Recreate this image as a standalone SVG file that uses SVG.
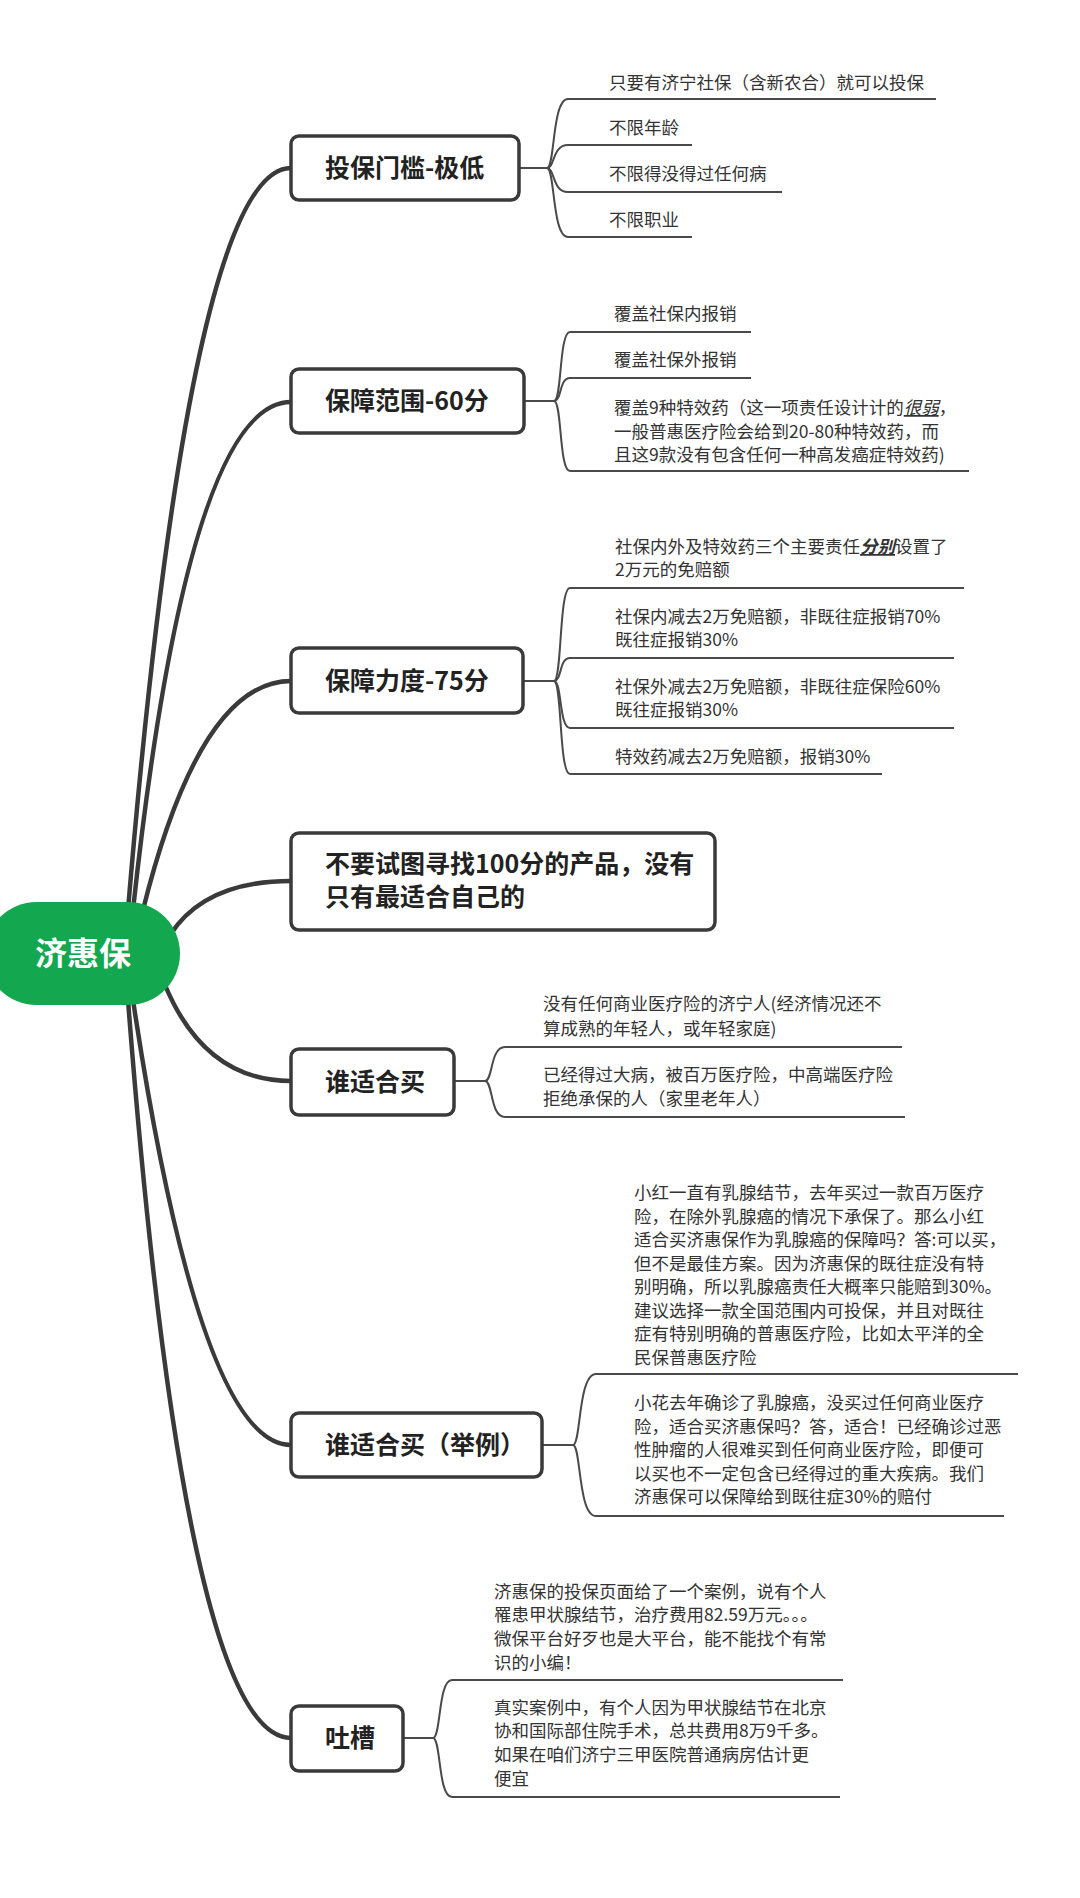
<svg xmlns="http://www.w3.org/2000/svg" width="1080" height="1898" viewBox="0 0 1080 1898">
<style>
.main{fill:none;stroke:#3a3a3a;stroke-width:4.5;stroke-linecap:round}
.sub{fill:none;stroke:#4a4a4a;stroke-width:2}
.box{fill:#fff;stroke:#3a3a3a;stroke-width:3.5}
.nt{font-family:"Noto Sans CJK SC","Noto Sans",sans-serif;font-size:25px;font-weight:700;fill:#222}
.st{font-family:"Noto Sans CJK SC","Noto Sans",sans-serif;font-size:17.5px;fill:#333}
.ct{font-family:"Noto Sans CJK SC","Noto Sans",sans-serif;font-size:32px;font-weight:700;fill:#fff}
</style>
<rect width="1080" height="1898" fill="#fff"/>
<g id="connectors">
<path class="main" d="M128,910 Q190,168 291,168"/>
<path class="main" d="M133,910 Q188,402 291,402"/>
<path class="main" d="M143,910 Q200,681 291,681"/>
<path class="main" d="M170,935 Q205,881 291,881"/>
<path class="main" d="M165,985 Q205,1081 291,1081"/>
<path class="main" d="M133,1000 Q200,1445 291,1445"/>
<path class="main" d="M128,1000 Q185,1738 291,1738"/>
<path class="sub" d="M519,168 H547"/>
<path class="sub" d="M547,168 C555,168 552,99 568,99 H936"/>
<path class="sub" d="M547,168 C555,168 552,145 568,145 H692"/>
<path class="sub" d="M547,168 C555,168 552,192 568,192 H782"/>
<path class="sub" d="M547,168 C555,168 552,237 568,237 H692"/>
<path class="sub" d="M524,401 H554"/>
<path class="sub" d="M554,401 C562,401 559,332 570,332 H751"/>
<path class="sub" d="M554,401 C562,401 559,378 570,378 H751"/>
<path class="sub" d="M554,401 C562,401 559,471 570,471 H969"/>
<path class="sub" d="M523,681 H554"/>
<path class="sub" d="M554,681 C562,681 559,588 570,588 H964"/>
<path class="sub" d="M554,681 C562,681 559,658 570,658 H954"/>
<path class="sub" d="M554,681 C562,681 559,728 570,728 H954"/>
<path class="sub" d="M554,681 C562,681 559,774 570,774 H882"/>
<path class="sub" d="M454,1081 H485"/>
<path class="sub" d="M485,1081 C493,1081 490,1047 505,1047 H902"/>
<path class="sub" d="M485,1081 C493,1081 490,1117 505,1117 H905"/>
<path class="sub" d="M542,1445 H573"/>
<path class="sub" d="M573,1445 C581,1445 578,1374 596,1374 H1018"/>
<path class="sub" d="M573,1445 C581,1445 578,1516 596,1516 H1004"/>
<path class="sub" d="M403,1738 H433"/>
<path class="sub" d="M433,1738 C441,1738 438,1680 452,1680 H843"/>
<path class="sub" d="M433,1738 C441,1738 438,1797 452,1797 H840"/>
</g>
<g id="center">
<rect x="-15" y="902" width="195" height="103" rx="51.5" fill="#13a74f"/>
<text class="ct" x="83" y="965" text-anchor="middle">济惠保</text>
</g>
<g id="n1">
<rect class="box" x="291" y="136" width="228" height="64" rx="8"/>
<text class="nt" x="325" y="177">投保门槛-极低</text>
</g>
<g id="n1a"><text class="st" x="609" y="89">只要有济宁社保（含新农合）就可以投保</text></g>
<g id="n1b"><text class="st" x="609" y="134">不限年龄</text></g>
<g id="n1c"><text class="st" x="609" y="180">不限得没得过任何病</text></g>
<g id="n1d"><text class="st" x="609" y="226">不限职业</text></g>
<g id="n2">
<rect class="box" x="291" y="369" width="233" height="64" rx="8"/>
<text class="nt" x="325" y="410">保障范围-60分</text>
</g>
<g id="n2a"><text class="st" x="614" y="320">覆盖社保内报销</text></g>
<g id="n2b"><text class="st" x="614" y="366">覆盖社保外报销</text></g>
<g id="n2c"><text class="st" x="614" y="414">覆盖9种特效药（这一项责任设计计的<tspan font-style="italic" text-decoration="underline">很弱</tspan>，</text>
<text class="st" x="614" y="438">一般普惠医疗险会给到20-80种特效药，而</text>
<text class="st" x="614" y="461">且这9款没有包含任何一种高发癌症特效药)</text></g>
<g id="n3">
<rect class="box" x="291" y="648" width="232" height="65" rx="8"/>
<text class="nt" x="325" y="690">保障力度-75分</text>
</g>
<g id="n3a"><text class="st" x="615" y="553">社保内外及特效药三个主要责任<tspan font-weight="700" font-style="italic" text-decoration="underline">分别</tspan>设置了</text>
<text class="st" x="615" y="576">2万元的免赔额</text></g>
<g id="n3b"><text class="st" x="615" y="623">社保内减去2万免赔额，非既往症报销70%</text>
<text class="st" x="615" y="646">既往症报销30%</text></g>
<g id="n3c"><text class="st" x="615" y="693">社保外减去2万免赔额，非既往症保险60%</text>
<text class="st" x="615" y="716">既往症报销30%</text></g>
<g id="n3d"><text class="st" x="615" y="763">特效药减去2万免赔额，报销30%</text></g>
<g id="n4">
<rect class="box" x="291" y="833" width="424" height="97" rx="8"/>
<text class="nt" x="325" y="873">不要试图寻找100分的产品，没有</text>
<text class="nt" x="325" y="906">只有最适合自己的</text>
</g>
<g id="n5">
<rect class="box" x="291" y="1049" width="163" height="66" rx="8"/>
<text class="nt" x="325" y="1091">谁适合买</text>
</g>
<g id="n5a"><text class="st" x="543" y="1010">没有任何商业医疗险的济宁人(经济情况还不</text>
<text class="st" x="543" y="1035">算成熟的年轻人，或年轻家庭)</text></g>
<g id="n5b"><text class="st" x="543" y="1081">已经得过大病，被百万医疗险，中高端医疗险</text>
<text class="st" x="543" y="1105">拒绝承保的人（家里老年人）</text></g>
<g id="n6">
<rect class="box" x="291" y="1413" width="251" height="64" rx="8"/>
<text class="nt" x="325" y="1454">谁适合买（举例）</text>
</g>
<g id="n6a">
<text class="st" x="634" y="1199">小红一直有乳腺结节，去年买过一款百万医疗</text>
<text class="st" x="634" y="1223">险，在除外乳腺癌的情况下承保了。那么小红</text>
<text class="st" x="634" y="1246">适合买济惠保作为乳腺癌的保障吗？答:可以买，</text>
<text class="st" x="634" y="1270">但不是最佳方案。因为济惠保的既往症没有特</text>
<text class="st" x="634" y="1293">别明确，所以乳腺癌责任大概率只能赔到30%。</text>
<text class="st" x="634" y="1317">建议选择一款全国范围内可投保，并且对既往</text>
<text class="st" x="634" y="1340">症有特别明确的普惠医疗险，比如太平洋的全</text>
<text class="st" x="634" y="1364">民保普惠医疗险</text>
</g>
<g id="n6b">
<text class="st" x="634" y="1409">小花去年确诊了乳腺癌，没买过任何商业医疗</text>
<text class="st" x="634" y="1433">险，适合买济惠保吗？答，适合！已经确诊过恶</text>
<text class="st" x="634" y="1456">性肿瘤的人很难买到任何商业医疗险，即便可</text>
<text class="st" x="634" y="1480">以买也不一定包含已经得过的重大疾病。我们</text>
<text class="st" x="634" y="1503">济惠保可以保障给到既往症30%的赔付</text>
</g>
<g id="n7">
<rect class="box" x="291" y="1706" width="112" height="65" rx="8"/>
<text class="nt" x="325" y="1747">吐槽</text>
</g>
<g id="n7a">
<text class="st" x="494" y="1598">济惠保的投保页面给了一个案例，说有个人</text>
<text class="st" x="494" y="1621">罹患甲状腺结节，治疗费用82.59万元。。。</text>
<text class="st" x="494" y="1645">微保平台好歹也是大平台，能不能找个有常</text>
<text class="st" x="494" y="1669">识的小编！</text>
</g>
<g id="n7b">
<text class="st" x="494" y="1714">真实案例中，有个人因为甲状腺结节在北京</text>
<text class="st" x="494" y="1737">协和国际部住院手术，总共费用8万9千多。</text>
<text class="st" x="494" y="1761">如果在咱们济宁三甲医院普通病房估计更</text>
<text class="st" x="494" y="1785">便宜</text>
</g>
</svg>
